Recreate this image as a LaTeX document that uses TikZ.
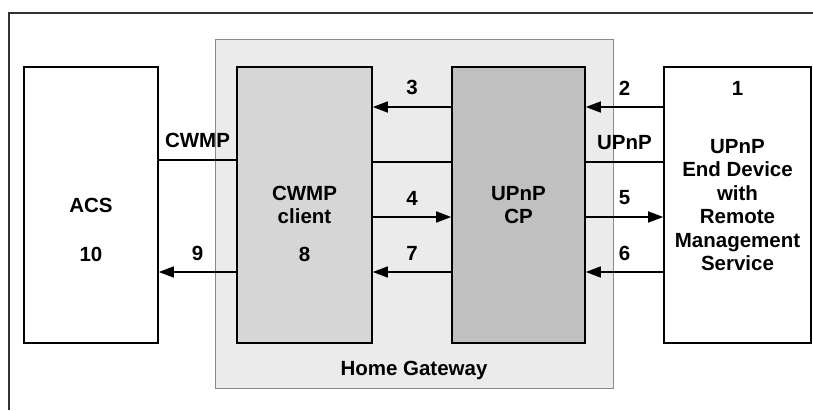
\documentclass[tikz,border=0pt]{standalone}
\usepackage{fontspec}
\setmainfont{Liberation Sans}
\usepackage{tikz}
\usetikzlibrary{arrows.meta, positioning, calc}
\definecolor{gwfill}{HTML}{EBEBEB}
\definecolor{gwline}{HTML}{8A8A8A}
\definecolor{clientfill}{HTML}{D6D6D6}
\definecolor{cpfill}{HTML}{C0C0C0}
\definecolor{framegray}{HTML}{333333}
\tikzset{
  box/.style={
    rectangle, draw=black, line width=1.6pt,
    minimum height=276pt, inner sep=0pt,
    text centered, align=center,
    font=\fontsize{20.5}{23.5}\selectfont\bfseries,
  },
  gateway/.style={
    rectangle, draw=gwline, line width=1pt, fill=gwfill,
    minimum width=398pt, minimum height=348pt,
  },
  num/.style={font=\fontsize{20.5}{23.5}\selectfont\bfseries, inner sep=0pt},
  lbl/.style={num, above=11pt},
  arrow/.style={-{Triangle[length=15pt, width=11pt]}, line width=1.6pt},
  link/.style={line width=1.6pt},
}

\begin{document}
\begin{tikzpicture}[x=1pt, y=1pt]

  \useasboundingbox (0,0) rectangle (813,410);
  \draw[framegray, line width=1.2pt] (9,0) -- (9,397) -- (815,397);

  \node[gateway] (gw) at (414,196) {};
  \node[num] (gwname) at ([yshift=18pt]gw.south) {Home Gateway};

  \node[box, minimum width=134pt] (acs) at (91,205) {ACS};
  \node[box, minimum width=135pt, fill=clientfill] (client) at (304.5,205) {CWMP\\client};
  \node[box, minimum width=133pt, fill=cpfill] (cp) at (518.5,205) {UPnP\\CP};
  \node[box, minimum width=147pt, fill=white] (dev) at (737.5,205)
    {UPnP\\End Device\\with\\Remote\\Management\\Service};

  \node[num] (n1) at ([yshift=-22pt]dev.north) {1};
  \node[num] (n8) at ([yshift=-49pt]client.center) {8};
  \node[num] (n10) at ([yshift=-49pt]acs.center) {10};

  \draw[arrow] ([yshift=98pt]dev.west) -- node[lbl]{2} ([yshift=98pt]cp.east);
  \draw[link] ([yshift=43pt]dev.west) -- node[lbl]{UPnP} ([yshift=43pt]cp.east);
  \draw[arrow] ([yshift=-12pt]cp.east) -- node[lbl]{5} ([yshift=-12pt]dev.west);
  \draw[arrow] ([yshift=-67pt]dev.west) -- node[lbl]{6} ([yshift=-67pt]cp.east);

  \draw[arrow] ([yshift=98pt]cp.west) -- node[lbl]{3} ([yshift=98pt]client.east);
  \draw[link] ([yshift=43pt]cp.west) -- ([yshift=43pt]client.east);
  \draw[arrow] ([yshift=-12pt]client.east) -- node[lbl]{4} ([yshift=-12pt]cp.west);
  \draw[arrow] ([yshift=-67pt]cp.west) -- node[lbl]{7} ([yshift=-67pt]client.east);

  \draw[link] ([yshift=45pt]client.west) -- node[lbl]{CWMP} ([yshift=45pt]acs.east);
  \draw[arrow] ([yshift=-67pt]client.west) -- node[lbl]{9} ([yshift=-67pt]acs.east);

\end{tikzpicture}
\end{document}
